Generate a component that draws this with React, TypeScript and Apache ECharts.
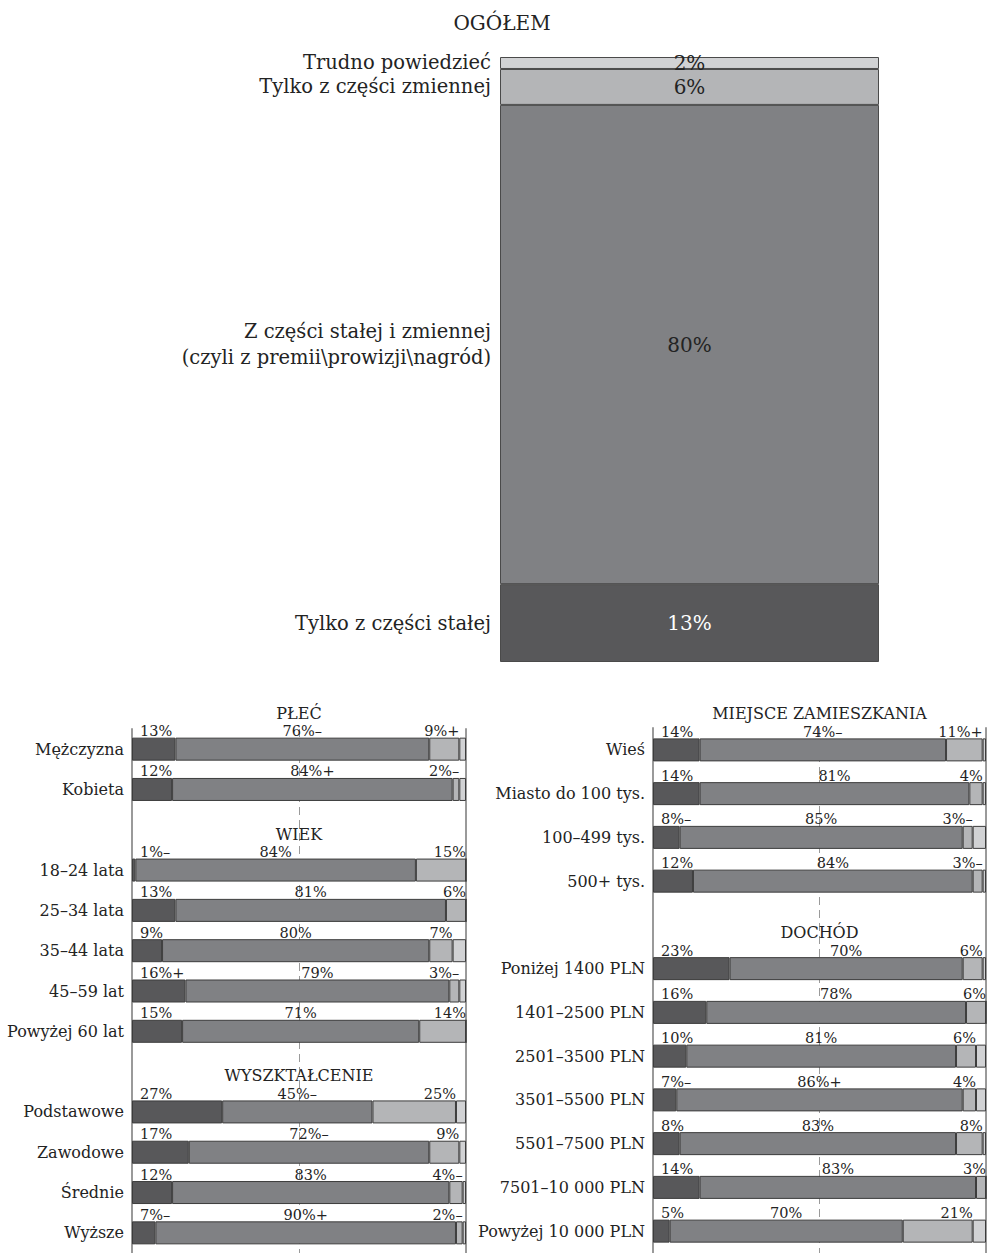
import React, { useEffect, useRef } from "react";
import * as echarts from "echarts";

// ---------- DATA ----------
const topTitle = "OGÓŁEM";
const topCats = [
  "Tylko z części stałej",
  "Z części stałej i zmiennej\n(czyli z premii\\prowizji\\nagród)",
  "Tylko z części zmiennej",
  "Trudno powiedzieć",
];
const topValues = [13, 80, 6, 2];

const leftCats = [
  "Mężczyzna", "Kobieta", " ",
  "18–24 lata", "25–34 lata", "35–44 lata", "45–59 lat", "Powyżej 60 lat", "  ",
  "Podstawowe", "Zawodowe", "Średnie", "Wyższe",
];
const leftStale = [13, 12, null, 1, 13, 9, 16, 15, null, 27, 17, 12, 7];
const leftMixed = [76, 84, null, 84, 81, 80, 79, 71, null, 45, 72, 83, 90];
const leftZmienne = [9, 2, null, 15, 6, 7, 3, 14, null, 25, 9, 4, 2];
const leftTrudno = [2, 2, null, 0, 0, 4, 2, 0, null, 3, 2, 1, 1];
const leftStaleMark = ["", "", "", "–", "", "", "+", "", "", "", "", "", "–"];
const leftMixedMark = ["–", "+", "", "", "", "", "", "", "", "–", "–", "", "+"];
const leftZmienneMark = ["+", "–", "", "", "", "", "–", "", "", "", "", "–", "–"];
const leftSectionNames = ["PŁEĆ", "WIEK", "WYSZKTAŁCENIE"];
const leftSectionRows = [0, 3, 9];

const rightCats = [
  "Wieś", "Miasto do 100 tys.", "100–499 tys.", "500+ tys.", " ",
  "Poniżej 1400 PLN", "1401–2500 PLN", "2501–3500 PLN", "3501–5500 PLN",
  "5501–7500 PLN", "7501–10 000 PLN", "Powyżej 10 000 PLN",
];
const rightStale = [14, 14, 8, 12, null, 23, 16, 10, 7, 8, 14, 5];
const rightMixed = [74, 81, 85, 84, null, 70, 78, 81, 86, 83, 83, 70];
const rightZmienne = [11, 4, 3, 3, null, 6, 6, 6, 4, 8, 3, 21];
const rightTrudno = [1, 1, 4, 1, null, 1, 0, 3, 3, 1, 0, 4];
const rightStaleMark = ["", "", "–", "", "", "", "", "", "–", "", "", ""];
const rightMixedMark = ["–", "", "", "", "", "", "", "", "+", "", "", ""];
const rightZmienneMark = ["+", "", "–", "–", "", "", "", "", "", "", "", ""];
const rightSectionNames = ["MIEJSCE ZAMIESZKANIA", "DOCHÓD"];
const rightSectionRows = [0, 5];

// ---------- STYLE ----------
const FONT = "DejaVu Serif";
const TEXT = "#232323";
const segColors = ["#58585a", "#808184", "#b4b5b7", "#d1d2d4"];
const AXIS_GRAY = "#9a9a9a";

function panelSeries(
  axisIdx: number,
  yIdx: number,
  stack: string,
  segs: (number | null)[][],
  marks: string[][],
  sectionNames: string[],
  sectionRows: number[]
) {
  const positions: any[] = [[8, 1], ["50%", 1], ["100%", 1]];
  const aligns = ["left", "center", "right"];
  const series: any[] = segs.map((data, i) => ({
    type: "bar",
    stack,
    xAxisIndex: axisIdx,
    yAxisIndex: yIdx,
    barWidth: 23,
    data,
    itemStyle: { color: segColors[i], borderColor: "#3c3c3c", borderWidth: 1 },
    label:
      i < 3
        ? {
            show: true,
            position: positions[i],
            align: aligns[i],
            verticalAlign: "bottom",
            fontFamily: FONT,
            fontSize: 14.5,
            color: TEXT,
            formatter: (p: any) =>
              p.value == null ? "" : p.value + "%" + (marks[i][p.dataIndex] || ""),
          }
        : { show: false },
    silent: true,
  }));
  series.push({
    type: "scatter",
    xAxisIndex: axisIdx,
    yAxisIndex: yIdx,
    symbolSize: 0,
    silent: true,
    itemStyle: { opacity: 1, color: "rgba(0,0,0,0)" },
    data: sectionRows.map((r, k) => ({ value: [50, r], name: sectionNames[k] })),
    label: {
      show: true,
      position: "top",
      distance: 28,
      formatter: "{b}",
      fontFamily: FONT,
      fontSize: 16,
      color: TEXT,
      opacity: 1,
    },
  });
  return series;
}

function panelAxes(gridIndex: number, cats: string[]) {
  const xAxis = {
    gridIndex,
    type: "value",
    min: 0,
    max: 100,
    interval: 50,
    axisLabel: { show: false },
    axisLine: { show: false },
    axisTick: { show: false },
    splitLine: { show: true, lineStyle: { color: AXIS_GRAY, width: 1, type: [8, 5] } },
  };
  const yLeft = {
    gridIndex,
    type: "category",
    data: cats,
    inverse: true,
    axisTick: { show: false },
    axisLine: { show: true, lineStyle: { color: AXIS_GRAY, width: 2 } },
    axisLabel: { fontFamily: FONT, fontSize: 16, color: TEXT, margin: 8 },
  };
  const yRight = {
    gridIndex,
    type: "category",
    data: cats,
    inverse: true,
    position: "right",
    axisTick: { show: false },
    axisLabel: { show: false },
    axisLine: { show: true, lineStyle: { color: AXIS_GRAY, width: 2 } },
  };
  return { xAxis, yLeft, yRight };
}

export default function App() {
  const ref = useRef<HTMLDivElement>(null);

  useEffect(() => {
    if (!ref.current) return;
    const chart = echarts.init(ref.current, undefined, { renderer: "svg" });

    const L = panelAxes(1, leftCats);
    const R = panelAxes(2, rightCats);

    const topSeries: any[] = topValues.map((v, i) => ({
      type: "bar",
      name: topCats[i],
      stack: "top",
      xAxisIndex: 0,
      yAxisIndex: 0,
      barWidth: "100%",
      data: [v],
      silent: true,
      itemStyle: { color: segColors[i], borderColor: "#4a4a4a", borderWidth: 1 },
      label: {
        show: true,
        position: "inside",
        formatter: "{c}%",
        fontFamily: FONT,
        fontSize: 20,
        color: i === 0 ? "#ffffff" : TEXT,
      },
    }));
    const nameSeries: any[] = topValues.map((v, i) => ({
      type: "bar",
      name: topCats[i] + "_n",
      stack: "topNames",
      xAxisIndex: 1,
      yAxisIndex: 0,
      barWidth: "100%",
      data: [v],
      silent: true,
      itemStyle: { color: "rgba(0,0,0,0)" },
      label: {
        show: true,
        position: "left",
        distance: 9,
        align: "right",
        formatter: topCats[i],
        fontFamily: FONT,
        fontSize: 19.5,
        lineHeight: 26,
        color: TEXT,
      },
    }));

    chart.setOption({
      animation: false,
      title: {
        text: topTitle,
        left: 497,
        top: 8,
        textAlign: "center",
        textStyle: { fontFamily: FONT, fontSize: 20, fontWeight: "normal", color: TEXT },
      },
      grid: [
        { left: 500, top: 57, width: 379, height: 605 },
        { left: 132, top: 729, width: 334, height: 526.5 },
        { left: 653, top: 728, width: 333, height: 529 },
      ],
      xAxis: [
        { gridIndex: 0, type: "category", data: [""], show: false },
        { gridIndex: 0, type: "category", data: [""], show: false },
        L.xAxis,
        R.xAxis,
      ],
      yAxis: [
        { gridIndex: 0, type: "value", min: 0, max: 101, show: false },
        L.yLeft,
        L.yRight,
        R.yLeft,
        R.yRight,
      ],
      series: [
        ...topSeries,
        ...nameSeries,
        ...panelSeries(
          2,
          1,
          "left",
          [leftStale, leftMixed, leftZmienne, leftTrudno],
          [leftStaleMark, leftMixedMark, leftZmienneMark],
          leftSectionNames,
          leftSectionRows
        ),
        ...panelSeries(
          3,
          3,
          "right",
          [rightStale, rightMixed, rightZmienne, rightTrudno],
          [rightStaleMark, rightMixedMark, rightZmienneMark],
          rightSectionNames,
          rightSectionRows
        ),
      ],
    });

    return () => chart.dispose();
  }, []);

  return (
    <div
      ref={ref}
      style={{ position: "absolute", left: 0, top: 0, width: 988, height: 1253, background: "#ffffff" }}
    />
  );
}
